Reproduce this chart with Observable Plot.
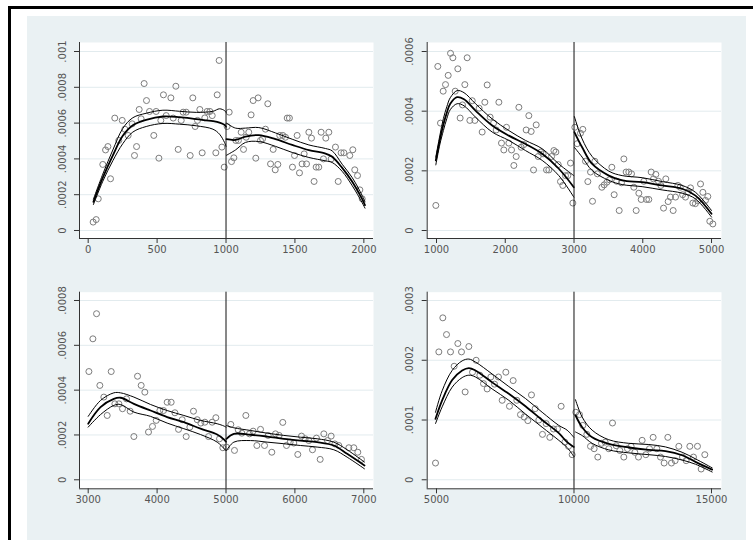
<!DOCTYPE html>
<html><head><meta charset="utf-8">
<script src="https://cdn.jsdelivr.net/npm/d3@7"></script>
<script src="https://cdn.jsdelivr.net/npm/@observablehq/plot@0.6"></script>
<style>
body{margin:0;background:#fff;}
#wrap{position:relative;width:753px;height:540px;overflow:hidden;background:#fff;}
#border{position:absolute;left:8px;top:6px;width:800px;height:600px;border-left:3px solid #000;border-top:3px solid #000;}
#bg{position:absolute;left:27px;top:16px;width:719px;height:540px;background:#EAF1F3;}
.panel{position:absolute;}
</style></head><body><div id="wrap"><div id="border"></div><div id="bg"></div></div>
<script>
// ---------- Panel 1 (top-left) ----------
const tlPointX = [36,58,73,106,126,143,162,193,222,247,266,290,319,336,351,370,384,406,423,445,476,493,513,527,546,566,600,617,636,653,675,689,711,740,759,776,793,810,827,846,863,883,900,926,936,950,970,987,
1008,1023,1040,1057,1071,1090,1110,1127,1146,1165,1182,1197,1216,1233,1250,1265,1286,1303,1323,1342,1357,1376,1390,1412,1431,1444,1460,1482,1497,1516,1533,1552,1567,1584,1601,1620,1639,1654,1673,1690,1707,1724,1746,1763,1794,1814,1835,1855,1898,1920,1934,1954,1971,1988];
const tlPointY = [0.47e-4,0.61e-4,1.77e-4,3.69e-4,4.5e-4,4.69e-4,2.89e-4,6.28e-4,5.03e-4,6.15e-4,5.66e-4,5.31e-4,5.96e-4,4.19e-4,4.69e-4,6.76e-4,6.24e-4,8.21e-4,7.26e-4,6.65e-4,5.31e-4,6.65e-4,4.04e-4,6.15e-4,7.58e-4,6.42e-4,7.41e-4,6.28e-4,8.06e-4,4.53e-4,6.15e-4,6.61e-4,6.61e-4,4.19e-4,7.41e-4,5.81e-4,6.15e-4,6.76e-4,4.34e-4,6.29e-4,6.65e-4,6.65e-4,6.42e-4,4.34e-4,7.58e-4,9.5e-4,4.66e-4,3.54e-4,
5.81e-4,6.61e-4,3.85e-4,4.06e-4,5.03e-4,5.03e-4,5.49e-4,4.53e-4,5.21e-4,5.49e-4,6.46e-4,7.26e-4,4.04e-4,7.41e-4,5.03e-4,5.12e-4,5.66e-4,7.08e-4,3.72e-4,4.53e-4,3.39e-4,3.69e-4,5.31e-4,5.31e-4,5.21e-4,6.28e-4,6.28e-4,3.54e-4,4.19e-4,5.31e-4,3.22e-4,3.72e-4,4.28e-4,3.72e-4,5.49e-4,5.16e-4,2.74e-4,3.54e-4,3.54e-4,5.49e-4,4.0e-4,5.16e-4,5.49e-4,4.0e-4,4.66e-4,2.74e-4,4.34e-4,4.34e-4,4.19e-4,4.51e-4,3.39e-4,3.07e-4,2.27e-4,1.77e-4];
const tlFitLX = [38,106,179,251,324,421,542,663,784,905,953,989,1000];
const tlFitLMid = [1.6e-4,2.95e-4,4.2e-4,5.29e-4,5.88e-4,6.18e-4,6.37e-4,6.33e-4,6.22e-4,6.11e-4,6.03e-4,5.9e-4,5.8e-4];
const tlFitLHi = [1.75e-4,3.15e-4,4.5e-4,5.7e-4,6.3e-4,6.55e-4,6.72e-4,6.66e-4,6.6e-4,6.66e-4,6.8e-4,6.7e-4,6.6e-4];
const tlFitLLo = [1.45e-4,2.75e-4,3.9e-4,4.85e-4,5.5e-4,5.81e-4,5.98e-4,5.94e-4,5.85e-4,5.66e-4,5.38e-4,4.92e-4,4.7e-4];
const tlFitRX = [1003,1069,1141,1238,1359,1480,1601,1722,1770,1843,1916,1988,2008];
const tlFitRMid = [5.1e-4,5.06e-4,5.25e-4,5.33e-4,5.1e-4,4.78e-4,4.49e-4,4.3e-4,4.12e-4,3.5e-4,2.72e-4,1.75e-4,1.42e-4];
const tlFitRHi = [6.0e-4,5.72e-4,5.72e-4,5.75e-4,5.45e-4,5.1e-4,4.78e-4,4.58e-4,4.45e-4,3.7e-4,2.95e-4,1.95e-4,1.6e-4];
const tlFitRLo = [4.2e-4,4.5e-4,4.92e-4,4.97e-4,4.7e-4,4.36e-4,4.08e-4,3.89e-4,3.8e-4,3.3e-4,2.5e-4,1.55e-4,1.25e-4];
const tlXTicks = [0,500,1000,1500,2000];
const tlXLabels = ["0","500","1000","1500","2000"];
const tlYTicks = [0,2e-4,4e-4,6e-4,8e-4,10e-4];
const tlYLabels = ["0",".0002",".0004",".0006",".0008",".001"];

// ---------- Panel 2 (top-right) ----------
const trPointX = [990,1019,1058,1097,1131,1170,1204,1238,1272,1310,1344,1378,1412,1446,1485,1520,1558,1620,1664,1703,1737,1780,1830,1868,1907,1945,1979,2018,2052,2091,2125,2159,2198,2231,2270,2304,2343,2377,2411,2450,2479,2518,2551,2600,2634,2673,2707,2736,2770,2803,2837,2876,2910,2949,2983,
3012,3046,3094,3128,3167,3201,3240,3269,3303,3340,3405,3439,3478,3515,3550,3584,3620,3657,3690,3725,3758,3797,3836,3870,3904,3943,3977,4015,4054,4088,4122,4156,4190,4229,4263,4302,4335,4369,4403,4442,4476,4510,4544,4580,4621,4660,4694,4728,4765,4800,4840,4874,4912,4946,4975,5019];
const trPointY = [0.84e-4,5.5e-4,3.6e-4,4.67e-4,4.89e-4,5.2e-4,5.94e-4,5.79e-4,4.67e-4,5.42e-4,3.77e-4,4.21e-4,4.89e-4,5.79e-4,3.69e-4,4.35e-4,3.69e-4,4.1e-4,3.3e-4,4.3e-4,4.88e-4,3.8e-4,3.6e-4,3.37e-4,4.3e-4,2.93e-4,2.7e-4,3.46e-4,2.93e-4,2.7e-4,2.18e-4,2.48e-4,4.13e-4,2.79e-4,2.88e-4,3.37e-4,3.85e-4,3.32e-4,2.03e-4,3.54e-4,2.48e-4,2.63e-4,2.57e-4,2.03e-4,2.03e-4,2.48e-4,2.68e-4,2.63e-4,2.21e-4,1.64e-4,1.51e-4,1.84e-4,1.84e-4,2.26e-4,0.92e-4,
3.46e-4,2.91e-4,3.26e-4,3.39e-4,2.32e-4,1.64e-4,1.96e-4,0.98e-4,2.32e-4,1.9e-4,1.45e-4,1.53e-4,1.62e-4,1.7e-4,2.12e-4,1.2e-4,1.65e-4,0.67e-4,1.6e-4,2.4e-4,1.96e-4,1.96e-4,1.9e-4,1.45e-4,0.67e-4,1.25e-4,1.04e-4,1.65e-4,1.04e-4,1.04e-4,1.96e-4,1.73e-4,1.88e-4,1.65e-4,1.51e-4,0.75e-4,1.73e-4,0.97e-4,1.12e-4,0.67e-4,1.12e-4,1.51e-4,1.45e-4,1.2e-4,1.12e-4,1.3e-4,1.43e-4,0.92e-4,0.9e-4,1.0e-4,1.56e-4,1.28e-4,1.01e-4,1.14e-4,0.31e-4,0.22e-4];
const trFitLX = [990,1050,1100,1150,1200,1300,1400,1567,1810,2052,2294,2537,2779,2997];
const trFitLMid = [2.35e-4,3.05e-4,3.55e-4,3.95e-4,4.25e-4,4.47e-4,4.4e-4,4.02e-4,3.52e-4,3.18e-4,2.9e-4,2.57e-4,2.07e-4,1.45e-4];
const trFitLHi = [2.46e-4,3.2e-4,3.75e-4,4.15e-4,4.45e-4,4.69e-4,4.62e-4,4.25e-4,3.74e-4,3.35e-4,3.02e-4,2.74e-4,2.23e-4,1.84e-4];
const trFitLLo = [2.2e-4,2.9e-4,3.35e-4,3.75e-4,4.05e-4,4.25e-4,4.18e-4,3.8e-4,3.3e-4,3.02e-4,2.68e-4,2.35e-4,1.84e-4,1.12e-4];
const trFitRX = [3005,3118,3264,3506,3700,3991,4282,4573,4767,5000];
const trFitRMid = [3.3e-4,2.79e-4,2.23e-4,1.84e-4,1.68e-4,1.62e-4,1.51e-4,1.4e-4,1.17e-4,0.56e-4];
const trFitRHi = [3.82e-4,3.07e-4,2.48e-4,1.99e-4,1.84e-4,1.77e-4,1.64e-4,1.51e-4,1.28e-4,0.67e-4];
const trFitRLo = [2.79e-4,2.46e-4,2.01e-4,1.68e-4,1.54e-4,1.47e-4,1.36e-4,1.25e-4,1.06e-4,0.45e-4];
const trXTicks = [1000,2000,3000,4000,5000];
const trXLabels = ["1000","2000","3000","4000","5000"];
const trYTicks = [0,2e-4,4e-4,6e-4];
const trYLabels = ["0",".0002",".0004",".0006"];

// ---------- Panel 3 (bottom-left) ----------
const blPointX = [3010,3068,3121,3169,3227,3276,3334,3387,3445,3498,3556,3609,3663,3716,3769,3822,3875,3933,3987,4040,4093,4146,4204,4258,4311,4364,4422,4475,4528,4582,4635,4693,4746,4799,4853,4906,4954,5007,
5070,5123,5177,5230,5288,5341,5394,5448,5501,5559,5612,5665,5718,5771,5824,5878,5931,5984,6042,6096,6149,6202,6255,6313,6367,6420,6473,6526,6580,6637,6783,6855,6913,6966];
const blPointY = [4.83e-4,6.29e-4,7.41e-4,4.21e-4,3.69e-4,2.87e-4,4.83e-4,3.39e-4,3.39e-4,3.17e-4,3.61e-4,3.06e-4,1.93e-4,4.62e-4,4.21e-4,3.91e-4,2.13e-4,2.38e-4,2.65e-4,3.09e-4,3.09e-4,3.46e-4,3.46e-4,2.99e-4,2.25e-4,2.68e-4,1.93e-4,2.35e-4,3.06e-4,2.68e-4,2.53e-4,2.57e-4,1.93e-4,2.57e-4,2.77e-4,1.83e-4,1.43e-4,1.46e-4,
2.47e-4,1.31e-4,2.23e-4,2.08e-4,2.87e-4,2.05e-4,2.17e-4,1.53e-4,2.25e-4,1.53e-4,1.98e-4,1.23e-4,2.05e-4,1.98e-4,2.56e-4,1.53e-4,1.68e-4,1.64e-4,1.13e-4,1.95e-4,1.83e-4,1.75e-4,1.34e-4,1.86e-4,0.91e-4,2.05e-4,1.75e-4,1.95e-4,1.6e-4,1.53e-4,1.43e-4,1.43e-4,1.23e-4,0.91e-4];
const blFitLX = [3000,3179,3372,3469,3663,3905,4146,4388,4630,4872,4969,5000];
const blFitLMid = [2.5e-4,3.24e-4,3.61e-4,3.66e-4,3.39e-4,3.09e-4,2.8e-4,2.57e-4,2.28e-4,2.02e-4,1.8e-4,1.7e-4];
const blFitLHi = [2.83e-4,3.54e-4,3.88e-4,3.88e-4,3.69e-4,3.36e-4,3.09e-4,2.87e-4,2.65e-4,2.5e-4,2.4e-4,2.35e-4];
const blFitLLo = [2.35e-4,2.91e-4,3.32e-4,3.36e-4,3.02e-4,2.83e-4,2.53e-4,2.28e-4,2.02e-4,1.68e-4,1.4e-4,1.3e-4];
const blFitRX = [5007,5114,5356,5597,5839,6081,6323,6565,6758,7010];
const blFitRMid = [1.83e-4,2.05e-4,2.01e-4,1.93e-4,1.83e-4,1.75e-4,1.68e-4,1.53e-4,1.16e-4,0.64e-4];
const blFitRHi = [2.42e-4,2.32e-4,2.2e-4,2.08e-4,1.98e-4,1.9e-4,1.83e-4,1.68e-4,1.34e-4,0.79e-4];
const blFitRLo = [1.31e-4,1.68e-4,1.75e-4,1.68e-4,1.61e-4,1.53e-4,1.46e-4,1.34e-4,1.01e-4,0.49e-4];
const blXTicks = [3000,4000,5000,6000,7000];
const blXLabels = ["3000","4000","5000","6000","7000"];
const blYTicks = [0,2e-4,4e-4,6e-4,8e-4];
const blYLabels = ["0",".0002",".0004",".0006",".0008"];

// ---------- Panel 4 (bottom-right) ----------
const brPointX = [4964,5085,5230,5364,5509,5642,5776,5909,6042,6176,6309,6442,6576,6709,6842,6976,7110,7254,7388,7521,7654,7788,7921,8054,8188,8321,8454,8588,8721,8854,8988,9121,9254,9400,9533,9666,9800,9933,
10066,10200,10321,10466,10600,10733,10866,11000,11133,11266,11400,11533,11666,11812,11945,12078,12212,12345,12478,12612,12745,12878,13012,13145,13278,13412,13545,13678,13812,13945,14078,14212,14345,14490,14624,14757];
const brPointY = [0.28e-4,2.14e-4,2.71e-4,2.43e-4,2.14e-4,1.9e-4,2.28e-4,2.14e-4,1.47e-4,2.23e-4,1.8e-4,2.0e-4,1.75e-4,1.61e-4,1.52e-4,1.72e-4,1.6e-4,1.72e-4,1.33e-4,1.8e-4,1.23e-4,1.66e-4,1.33e-4,1.09e-4,1.05e-4,0.99e-4,1.42e-4,1.19e-4,1.0e-4,0.76e-4,0.94e-4,0.71e-4,0.85e-4,0.85e-4,1.23e-4,0.63e-4,0.56e-4,0.42e-4,
1.13e-4,1.09e-4,0.91e-4,0.76e-4,0.56e-4,0.52e-4,0.38e-4,0.61e-4,0.63e-4,0.52e-4,0.95e-4,0.57e-4,0.49e-4,0.38e-4,0.52e-4,0.56e-4,0.46e-4,0.38e-4,0.66e-4,0.42e-4,0.52e-4,0.71e-4,0.52e-4,0.38e-4,0.28e-4,0.71e-4,0.28e-4,0.32e-4,0.56e-4,0.38e-4,0.32e-4,0.56e-4,0.38e-4,0.56e-4,0.18e-4,0.42e-4];
const brFitLX = [4964,5206,5570,5933,6176,6418,7024,7630,8236,8842,9448,9751,9993];
const brFitLMid = [1.02e-4,1.33e-4,1.67e-4,1.83e-4,1.87e-4,1.83e-4,1.63e-4,1.44e-4,1.23e-4,1.0e-4,0.78e-4,0.63e-4,0.55e-4];
const brFitLHi = [1.13e-4,1.49e-4,1.83e-4,1.99e-4,2.02e-4,1.97e-4,1.77e-4,1.56e-4,1.36e-4,1.13e-4,0.91e-4,0.83e-4,0.71e-4];
const brFitLLo = [0.94e-4,1.22e-4,1.55e-4,1.71e-4,1.75e-4,1.72e-4,1.52e-4,1.33e-4,1.1e-4,0.88e-4,0.66e-4,0.54e-4,0.39e-4];
const brFitRX = [10054,10297,10660,11266,11993,12721,13327,13933,14418,15024];
const brFitRMid = [1.08e-4,0.88e-4,0.71e-4,0.6e-4,0.54e-4,0.5e-4,0.48e-4,0.41e-4,0.3e-4,0.17e-4];
const brFitRHi = [1.34e-4,1.05e-4,0.83e-4,0.67e-4,0.61e-4,0.59e-4,0.55e-4,0.46e-4,0.35e-4,0.2e-4];
const brFitRLo = [0.8e-4,0.74e-4,0.61e-4,0.5e-4,0.45e-4,0.42e-4,0.39e-4,0.33e-4,0.26e-4,0.13e-4];
const brXTicks = [5000,10000,15000];
const brXLabels = ["5000","10000","15000"];
const brYTicks = [0,1e-4,2e-4,3e-4];
const brYLabels = ["0",".0001",".0002",".0003"];

const cutoffs = [1000, 3000, 5000, 10000];

const panels = [
  {left:27, top:16, w:360, h:255, mL:52, mR:14, mT:26, mB:33, xDom:[-63,2070], yDom:[-0.447e-4,10.503e-4], cut:cutoffs[0],
   px:tlPointX, py:tlPointY, fits:[{x:tlFitLX,mid:tlFitLMid,hi:tlFitLHi,lo:tlFitLLo},{x:tlFitRX,mid:tlFitRMid,hi:tlFitRHi,lo:tlFitRLo}],
   xt:tlXTicks, xl:tlXLabels, yt:tlYTicks, yl:tlYLabels},
  {left:387, top:16, w:359, h:255, mL:39.7, mR:25, mT:26, mB:33, xDom:[864.7,5145], yDom:[-0.268e-4,6.302e-4], cut:cutoffs[1],
   px:trPointX, py:trPointY, fits:[{x:trFitLX,mid:trFitLMid,hi:trFitLHi,lo:trFitLLo},{x:trFitRX,mid:trFitRMid,hi:trFitRHi,lo:trFitRLo}],
   xt:trXTicks, xl:trXLabels, yt:trYTicks, yl:trYLabels},
  {left:27, top:271, w:360, h:269, mL:52, mR:14, mT:20.7, mB:51.7, xDom:[2873.7,7140.8], yDom:[-0.402e-4,8.37e-4], cut:cutoffs[2],
   px:blPointX, py:blPointY, fits:[{x:blFitLX,mid:blFitLMid,hi:blFitLHi,lo:blFitLLo},{x:blFitRX,mid:blFitRMid,hi:blFitRHi,lo:blFitRLo}],
   xt:blXTicks, xl:blXLabels, yt:blYTicks, yl:blYLabels},
  {left:387, top:271, w:359, h:269, mL:39.7, mR:25, mT:20.7, mB:51.7, xDom:[4662,15364], yDom:[-0.151e-4,3.139e-4], cut:cutoffs[3],
   px:brPointX, py:brPointY, fits:[{x:brFitLX,mid:brFitLMid,hi:brFitLHi,lo:brFitLLo},{x:brFitRX,mid:brFitRMid,hi:brFitRHi,lo:brFitRLo}],
   xt:brXTicks, xl:brXLabels, yt:brYTicks, yl:brYLabels}
];

const wrap = document.getElementById("wrap");
for (const c of panels) {
  const pts = c.px.map((x, i) => ({x, y: c.py[i]}));
  const mid = [], ci = [];
  c.fits.forEach((f, s) => {
    f.x.forEach((x, i) => {
      mid.push({x, y: f.mid[i], k: "m" + s});
      ci.push({x, y: f.hi[i], k: "h" + s});
      ci.push({x, y: f.lo[i], k: "l" + s});
    });
  });
  const ylab = c.yt.map((v, i) => ({v, label: c.yl[i]}));
  const svg = Plot.plot({
    width: c.w, height: c.h,
    marginLeft: c.mL, marginRight: c.mR, marginTop: c.mT, marginBottom: c.mB,
    x: {domain: c.xDom, axis: null},
    y: {domain: c.yDom, axis: null},
    style: {background: "transparent", fontFamily: "DejaVu Sans", fontSize: "10px", overflow: "visible", color: "#333"},
    marks: [
      Plot.frame({fill: "#fff", stroke: "none"}),
      Plot.gridY(c.yt, {stroke: "#E2EBEE", strokeOpacity: 1, strokeWidth: 1}),
      Plot.dot(pts, {x: "x", y: "y", r: 3, stroke: "#7c7c7c", strokeWidth: 1, fill: "none"}),
      Plot.line(ci, {x: "x", y: "y", z: "k", stroke: "#000", strokeWidth: 1, curve: "catmull-rom"}),
      Plot.line(mid, {x: "x", y: "y", z: "k", stroke: "#000", strokeWidth: 1.8, curve: "catmull-rom"}),
      Plot.ruleX([c.cut], {stroke: "#111", strokeWidth: 1}),
      Plot.ruleX([c.xDom[0]], {stroke: "#333", strokeWidth: 1}),
      Plot.ruleY([c.yDom[0]], {stroke: "#333", strokeWidth: 1}),
      Plot.axisX(c.xt, {tickSize: 5, tickPadding: 2, tickFormat: d => c.xl[c.xt.indexOf(d)], stroke: "#333", fill: "#555", label: null, fontSize: 10}),
      Plot.axisY(c.yt, {tickSize: 5, tickFormat: () => "", stroke: "#333", label: null}),
      Plot.text(ylab, {y: "v", text: "label", frameAnchor: "left", dx: -17, rotate: -90, textAnchor: "middle", lineAnchor: "middle", fill: "#555", fontSize: 10})
    ]
  });
  svg.classList.add("panel");
  svg.style.left = c.left + "px";
  svg.style.top = c.top + "px";
  wrap.appendChild(svg);
}
</script>
</body></html>
